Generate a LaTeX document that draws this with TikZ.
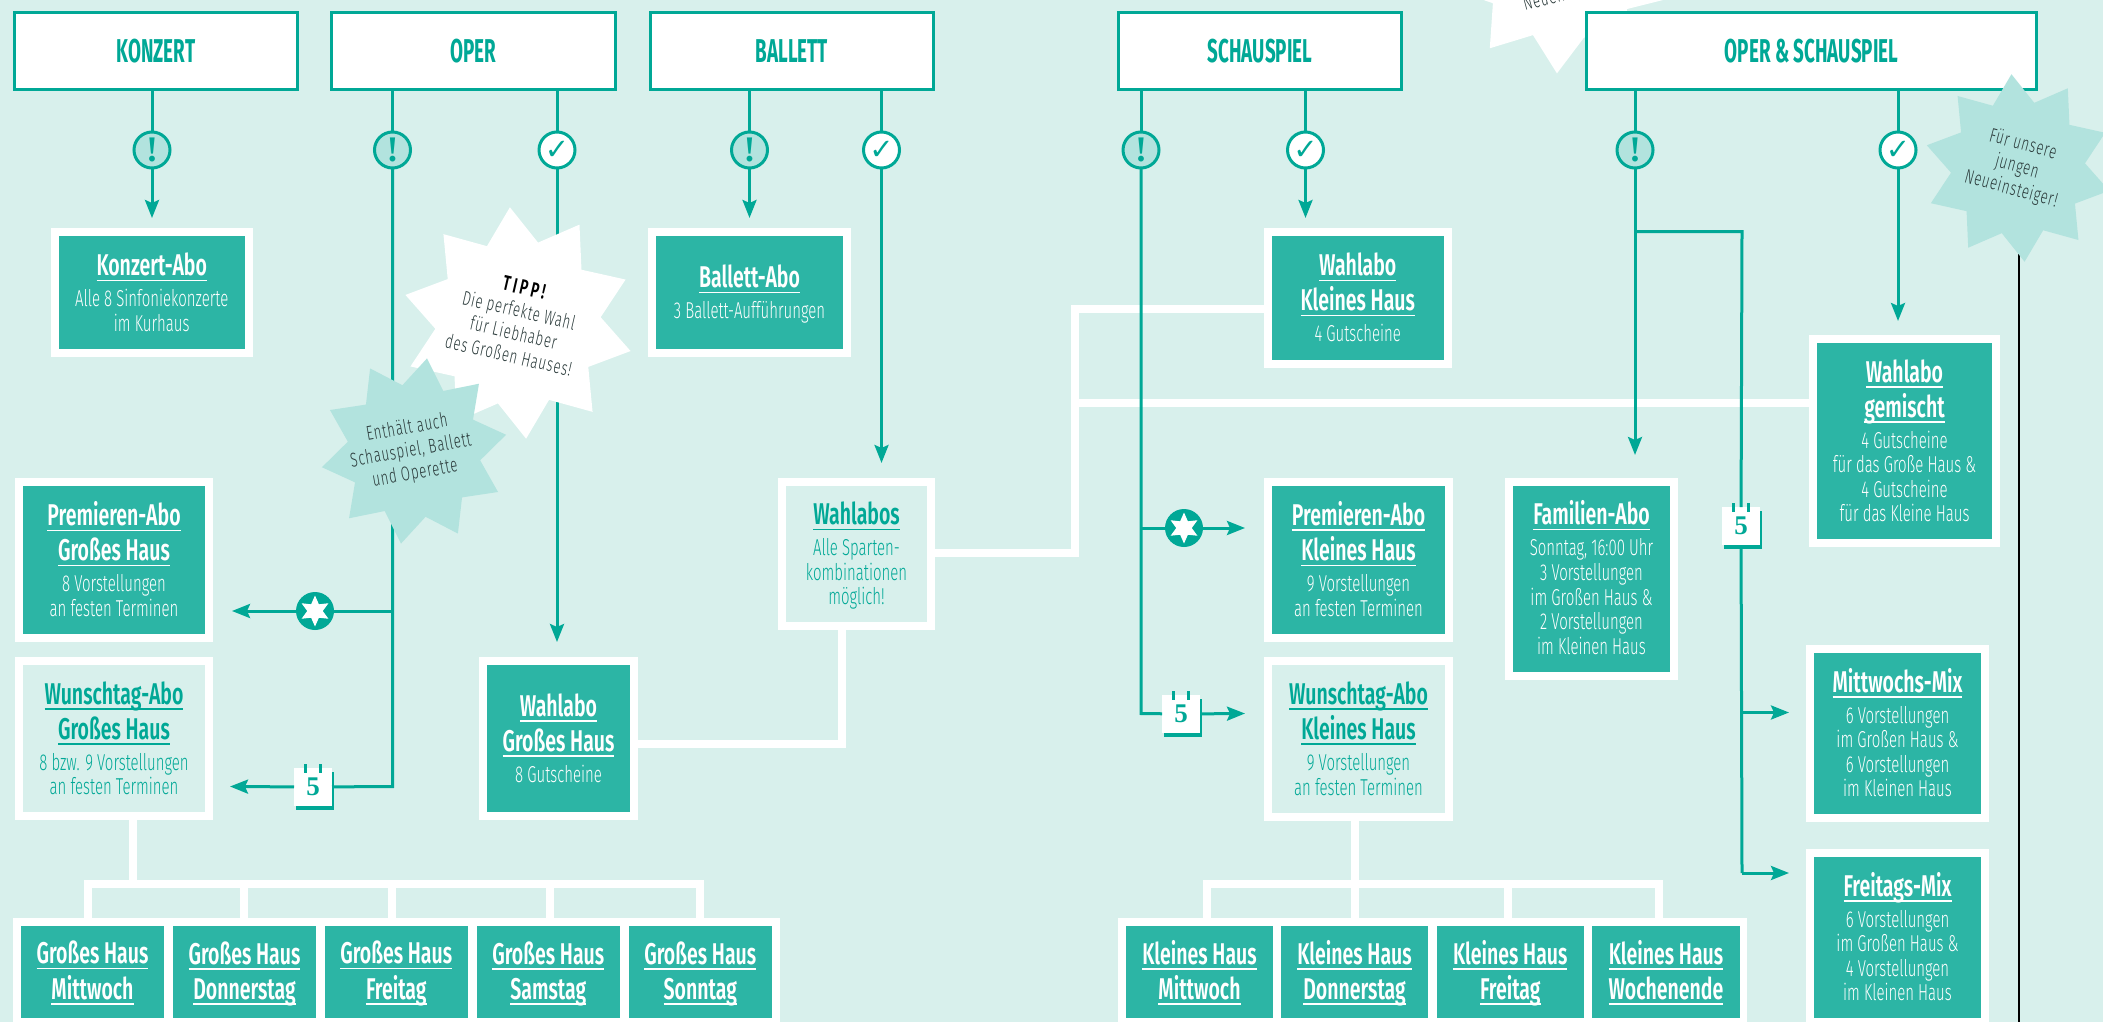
\documentclass[tikz,border=0pt]{standalone}
\usepackage{fontspec}
\usetikzlibrary{arrows.meta,shapes.geometric,calc}
\setmainfont{Fira Sans}
\newfontfamily\bodyf[FakeStretch=.65]{Fira Sans Light}
\newfontfamily\titlef[FakeStretch=.65]{Fira Sans SemiBold}
\newfontfamily\headf[FakeStretch=.57]{Fira Sans Bold}
\newfontfamily\starf[FakeStretch=.66,LetterSpace=4]{Fira Sans Light}
\newfontfamily\tippf[FakeStretch=.66,LetterSpace=14]{Fira Sans SemiBold}
\newfontfamily\marksf{DejaVu Sans Bold}
\newfontfamily\serf{Liberation Serif Bold}
\definecolor{bgc}{HTML}{D8F0EC}
\definecolor{linec}{HTML}{00A896}
\definecolor{boxc}{HTML}{2CB5A5}
\definecolor{palec}{HTML}{B2E3DE}
\definecolor{inkc}{HTML}{2A3A3A}
\newcommand\ttl[1]{\hbox{\vrule height 24pt depth 11pt width 0pt\setbox0\hbox{\titlef\fontsize{30}{30}\selectfont #1}\rlap{\rule[-5.5pt]{\wd0}{1.5pt}}\box0}}
\newcommand\bdl[1]{\hbox{\vrule height 20pt depth 4.3pt width 0pt\bodyf\fontsize{23}{24}\selectfont #1}}
\newcommand\stl[1]{\hbox{\vrule height 17pt depth 6pt width 0pt\starf\fontsize{20}{22}\selectfont #1}}
\newcommand\Bx[7]{\node[#1,minimum width={#5-#3-8},minimum height={#6-#4-8}] (#2) at ({(#3+#5)/2},{(#4+#6)/2}) {\hbox{\vrule height 2pt width 0pt}\\#7};}
\newcommand\Sx[6]{\node[stripbox,minimum width={#4-#2},minimum height={#5-#3}] (#1) at ({(#2+#4)/2},{(#3+#5)/2}) {\hbox{\vrule height 6pt width 0pt}\\#6};}
\newcommand\Hd[6]{\node[headbox,minimum width={#4-#2-3},minimum height={#5-#3-3}] (#1) at ({(#2+#4)/2},{(#3+#5)/2}) {\raisebox{-2.5pt}{#6}};}
\newcommand\Cal[3]{%
  \fill[linec] (#2-17,#3-15) rectangle (#2+21,#3+23);
  \node[calbox] (#1) at (#2,#3) {\serf\fontsize{27}{27}\selectfont 5};
  \draw[linec,line width=3pt] (#2-8,#3-23) -- (#2-8,#3-14);
  \draw[linec,line width=3pt] (#2+7,#3-23) -- (#2+7,#3-14);}
\tikzset{
  basebox/.style={inner sep=0pt,outer sep=0pt,align=center,font=\offinterlineskip},
  dkbox/.style={basebox,fill=boxc,draw=white,line width=8pt,text=white},
  ltbox/.style={basebox,fill=bgc,draw=white,line width=8pt,text=linec},
  stripbox/.style={basebox,fill=boxc,text=white},
  stripbg/.style={fill=white,inner sep=0pt,outer sep=0pt},
  headbox/.style={inner sep=0pt,outer sep=0pt,fill=white,draw=linec,line width=3pt,text=linec,font=\headf\fontsize{33}{33}\selectfont},
  wire/.style={draw=white,line width=8pt},
  conn/.style={draw=linec,line width=3pt},
  arr/.style={conn,-{Stealth[length=18pt,width=14pt,inset=3pt]}},
  markex/.style={circle,minimum size=36pt,inner sep=0pt,outer sep=0pt,draw=linec,line width=3pt,fill=palec,text=linec,font=\serf\fontsize{36}{36}\selectfont},
  markok/.style={circle,minimum size=36pt,inner sep=0pt,outer sep=0pt,draw=linec,line width=3pt,fill=white,text=linec,font=\marksf\fontsize{29}{29}\selectfont},
  markst/.style={circle,minimum size=38pt,inner sep=0pt,outer sep=0pt,fill=linec},
  sixstar/.style={star,star points=6,star point ratio=2,minimum size=31pt,inner sep=0pt,fill=white},
  calbox/.style={minimum width=38pt,minimum height=38pt,inner sep=0pt,outer sep=0pt,fill=white,text=linec},
  burst/.style={star,star points=10,star point ratio=1.4,inner sep=0pt,outer sep=0pt},
  bursttext/.style={inner sep=0pt,outer sep=0pt,align=center,font=\offinterlineskip,text=inkc},
}
\begin{document}
\begin{tikzpicture}[x=1pt,y=-1pt]
\useasboundingbox (0,0) rectangle (2103,1022);
\clip (0,0) rectangle (2103,1022);
\fill[bgc] (0,0) rectangle (2103,1022);

% coordinates of junctions and free ends
\coordinate (tK) at (152,218);
\coordinate (tOb) at (557,642);
\coordinate (jOa) at (392.5,611);
\coordinate (jOb) at (392.5,786.5);
\coordinate (tOa) at (232,611);
\coordinate (tOc) at (230,786.5);
\coordinate (tBa) at (749.5,218);
\coordinate (tBb) at (881.5,463);
\coordinate (tSb) at (1305.5,218);
\coordinate (jSa) at (1141,528);
\coordinate (jSb) at (1141,713.5);
\coordinate (tSa) at (1245,528);
\coordinate (tSc) at (1245,713.5);
\coordinate (tMa) at (1635,455);
\coordinate (jMa) at (1635,231.5);
\coordinate (jMb) at (1742,231.5);
\coordinate (jMc) at (1742,712.5);
\coordinate (jMd) at (1742,873);
\coordinate (tMc) at (1789,712.5);
\coordinate (tMd) at (1789,873);
\coordinate (tMb) at (1898,321);
\coordinate (lnA) at (2019,250);
\coordinate (lnB) at (2019,1022);
\coordinate (wA) at (842,744);
\coordinate (wB) at (1075,552.5);
\coordinate (wC) at (1075,309);
\coordinate (wD) at (1075,402.5);
\coordinate (gS) at (133,884);
\coordinate (g1) at (88,884);
\coordinate (g2) at (244,884);
\coordinate (g3) at (392,884);
\coordinate (g4) at (549.5,884);
\coordinate (g5) at (700,884);
\coordinate (k1) at (1207,884);
\coordinate (k2) at (1354.5,884);
\coordinate (k3) at (1508,884);
\coordinate (k4) at (1658.5,884);

% strips
\node[stripbg,minimum width=767pt,minimum height=112pt] (stripG) at (396.5,974) {};
\node[stripbg,minimum width=629pt,minimum height=112pt] (stripK) at (1432.5,974) {};

% boxes
\Bx{dkbox}{kAbo}{50.5}{228}{253}{357}{\ttl{Konzert-Abo}\\\bdl{Alle 8 Sinfoniekonzerte}\\\bdl{im Kurhaus}}
\Bx{dkbox}{bAbo}{648}{228}{851}{357}{\ttl{Ballett-Abo}\\\bdl{3 Ballett-Aufführungen}}
\Bx{dkbox}{wKH}{1264}{228}{1451.5}{368}{\ttl{Wahlabo}\\\ttl{Kleines Haus}\\\bdl{4 Gutscheine}}
\Bx{ltbox}{wAll}{778}{478}{935}{630}{\ttl{Wahlabos}\\\bdl{Alle Sparten-}\\\bdl{kombinationen}\\\bdl{möglich!}}
\Bx{dkbox}{pGH}{15}{478}{213}{642}{\ttl{Premieren-Abo}\\\ttl{Großes Haus}\\\bdl{8 Vorstellungen}\\\bdl{an festen Terminen}}
\Bx{ltbox}{uGH}{15}{657}{213}{820}{\ttl{Wunschtag-Abo}\\\ttl{Großes Haus}\\\bdl{8 bzw. 9 Vorstellungen}\\\bdl{an festen Terminen}}
\Bx{dkbox}{wGH}{479}{657}{638}{820}{\ttl{Wahlabo}\\\ttl{Großes Haus}\\\bdl{8 Gutscheine}}
\Bx{dkbox}{pKH}{1264}{478}{1453}{642}{\ttl{Premieren-Abo}\\\ttl{Kleines Haus}\\\bdl{9 Vorstellungen}\\\bdl{an festen Terminen}}
\Bx{ltbox}{uKH}{1264}{657}{1453}{820.5}{\ttl{Wunschtag-Abo}\\\ttl{Kleines Haus}\\\bdl{9 Vorstellungen}\\\bdl{an festen Terminen}}
\Bx{dkbox}{fAbo}{1505}{478}{1678}{679.5}{\ttl{Familien-Abo}\\\bdl{Sonntag, 16:00 Uhr}\\\bdl{3 Vorstellungen}\\\bdl{im Großen Haus \&}\\\bdl{2 Vorstellungen}\\\bdl{im Kleinen Haus}}
\Bx{dkbox}{wMix}{1809}{335}{2000}{547}{\ttl{Wahlabo}\\\ttl{gemischt}\\\bdl{4 Gutscheine}\\\bdl{für das Große Haus \&}\\\bdl{4 Gutscheine}\\\bdl{für das Kleine Haus}}
\Bx{dkbox}{mMix}{1806}{645}{1989}{822}{\ttl{Mittwochs-Mix}\\\bdl{6 Vorstellungen}\\\bdl{im Großen Haus \&}\\\bdl{6 Vorstellungen}\\\bdl{im Kleinen Haus}}
\Bx{dkbox}{frMix}{1806}{849}{1989}{1026}{\ttl{Freitags-Mix}\\\bdl{6 Vorstellungen}\\\bdl{im Großen Haus \&}\\\bdl{4 Vorstellungen}\\\bdl{im Kleinen Haus}}

% white connectors
\draw[wire] (uGH.south -| gS) -- (gS);
\draw[wire,line cap=rect] (g1) -- (g5);
\foreach \c in {g1,g2,g3,g4,g5} \draw[wire] (\c) -- (\c |- stripG.north);
\draw[wire] (uKH.south -| k2) -- (k2);
\draw[wire,line cap=rect] (k1) -- (k4);
\foreach \c in {k1,k2,k3,k4} \draw[wire] (\c) -- (\c |- stripK.north);
\draw[wire] (wGH.east |- wA) -- (wA) -- (wA |- wAll.south);
\draw[wire] (wAll.east |- wB) -- (wB) -- (wC) -- (wKH.west |- wC);
\draw[wire] (wD) -- (wMix.west |- wD);

% strip cells
\Sx{gMi}{21}{926}{164}{1018}{\ttl{Großes Haus}\\\ttl{Mittwoch}}
\Sx{gDo}{173}{926}{316}{1018}{\ttl{Großes Haus}\\\ttl{Donnerstag}}
\Sx{gFr}{324.5}{926}{468}{1018}{\ttl{Großes Haus}\\\ttl{Freitag}}
\Sx{gSa}{476.5}{926}{620}{1018}{\ttl{Großes Haus}\\\ttl{Samstag}}
\Sx{gSo}{628.5}{926}{772}{1018}{\ttl{Großes Haus}\\\ttl{Sonntag}}
\Sx{kMi}{1126}{926}{1273}{1018}{\ttl{Kleines Haus}\\\ttl{Mittwoch}}
\Sx{kDo}{1281}{926}{1428}{1018}{\ttl{Kleines Haus}\\\ttl{Donnerstag}}
\Sx{kFr}{1436.5}{926}{1584}{1018}{\ttl{Kleines Haus}\\\ttl{Freitag}}
\Sx{kWe}{1592}{926}{1740}{1018}{\ttl{Kleines Haus}\\\ttl{Wochenende}}

% black rule
\draw[black,line width=1.5pt] (lnA) -- (lnB);

% markers
\node[markex] (mK) at (152,150) {!};
\node[markex] (mOa) at (392.5,150) {!};
\node[markok] (mOb) at (557,150) {\char"2713};
\node[markex] (mBa) at (749.5,150) {!};
\node[markok] (mBb) at (881.5,150) {\char"2713};
\node[markex] (mSa) at (1141,150) {!};
\node[markok] (mSb) at (1305.5,150) {\char"2713};
\node[markex] (mMa) at (1635,150) {!};
\node[markok] (mMb) at (1898,150) {\char"2713};
\node[markst] (sO) at (315,611) {};
\node[sixstar] (sOi) at (315,611) {};
\node[markst] (sS) at (1184,528) {};
\node[sixstar] (sSi) at (1184,528) {};
\Cal{cO}{313}{787}
\Cal{cS}{1181}{714}
\Cal{cM}{1741}{526}

% white burst at the top, under its header
\node[burst,fill=white,minimum size=232pt,rotate=18,shape border rotate=-20.5] (bTop) at (1562,-42.5) {};
\node[rotate=15,anchor=base west,inner sep=0pt,text=inkc,font=\starf\fontsize{20}{22}\selectfont] (bTopT) at (1525,11) {Neueinsteiger!};

% headers
\Hd{hK}{13}{11}{299}{91}{KONZERT}
\Hd{hO}{330}{11}{617}{91}{OPER}
\Hd{hB}{649}{11}{935}{91}{BALLETT}
\Hd{hS}{1117}{11}{1403}{91}{SCHAUSPIEL}
\Hd{hM}{1585}{11}{2038}{91}{OPER \& SCHAUSPIEL}

% teal connectors
\draw[conn] (hK.south -| mK) -- (mK);
\draw[arr] (mK) -- (tK);
\draw[conn] (hO.south -| mOa) -- (mOa);
\draw[conn] (mOa) -- (jOb) -- (cO);
\draw[conn] (jOa) -- (sO);
\draw[arr] (sO) -- (tOa);
\draw[arr] (cO) -- (tOc);
\draw[conn] (hO.south -| mOb) -- (mOb);
\draw[arr] (mOb) -- (tOb);
\draw[conn] (hB.south -| mBa) -- (mBa);
\draw[arr] (mBa) -- (tBa);
\draw[conn] (hB.south -| mBb) -- (mBb);
\draw[arr] (mBb) -- (tBb);
\draw[conn] (hS.south -| mSa) -- (mSa);
\draw[conn] (mSa) -- (jSb) -- (cS);
\draw[conn] (jSa) -- (sS);
\draw[arr] (sS) -- (tSa);
\draw[arr] (cS) -- (tSc);
\draw[conn] (hS.south -| mSb) -- (mSb);
\draw[arr] (mSb) -- (tSb);
\draw[conn] (hM.south -| mMa) -- (mMa);
\draw[arr] (mMa) -- (tMa);
\draw[conn] (jMa) -- (jMb) -- (cM);
\draw[conn] (cM) -- (jMd);
\draw[arr] (jMc) -- (tMc);
\draw[arr] (jMd) -- (tMd);
\draw[conn] (hM.south -| mMb) -- (mMb);
\draw[arr] (mMb) -- (tMb);

% bursts
\node[burst,fill=white,minimum size=232pt,rotate=-13,shape border rotate=17] (bTip) at (518,323) {};
\node[bursttext,rotate=-13] (bTipT) at (516,323) {\hbox{\vrule height 17pt depth 6pt width 0pt\tippf\color{black}\fontsize{21}{22}\selectfont TIPP!}\\\stl{Die perfekte Wahl}\\\stl{für Liebhaber}\\\stl{des Großen Hauses!}};
\node[burst,fill=palec,minimum size=187pt,rotate=10,shape border rotate=-18] (bOp) at (414,451) {};
\node[bursttext,rotate=10] (bOpT) at (411,451) {\stl{Enthält auch}\\\stl{Schauspiel, Ballett}\\\stl{und Operette}};
\node[burst,fill=palec,minimum size=188pt,rotate=-15,shape border rotate=19] (bNew) at (2018,168) {};
\node[bursttext,rotate=-15] (bNewT) at (2017,167) {\stl{Für unsere}\\\stl{jungen}\\\stl{Neueinsteiger!}};
\end{tikzpicture}
\end{document}
